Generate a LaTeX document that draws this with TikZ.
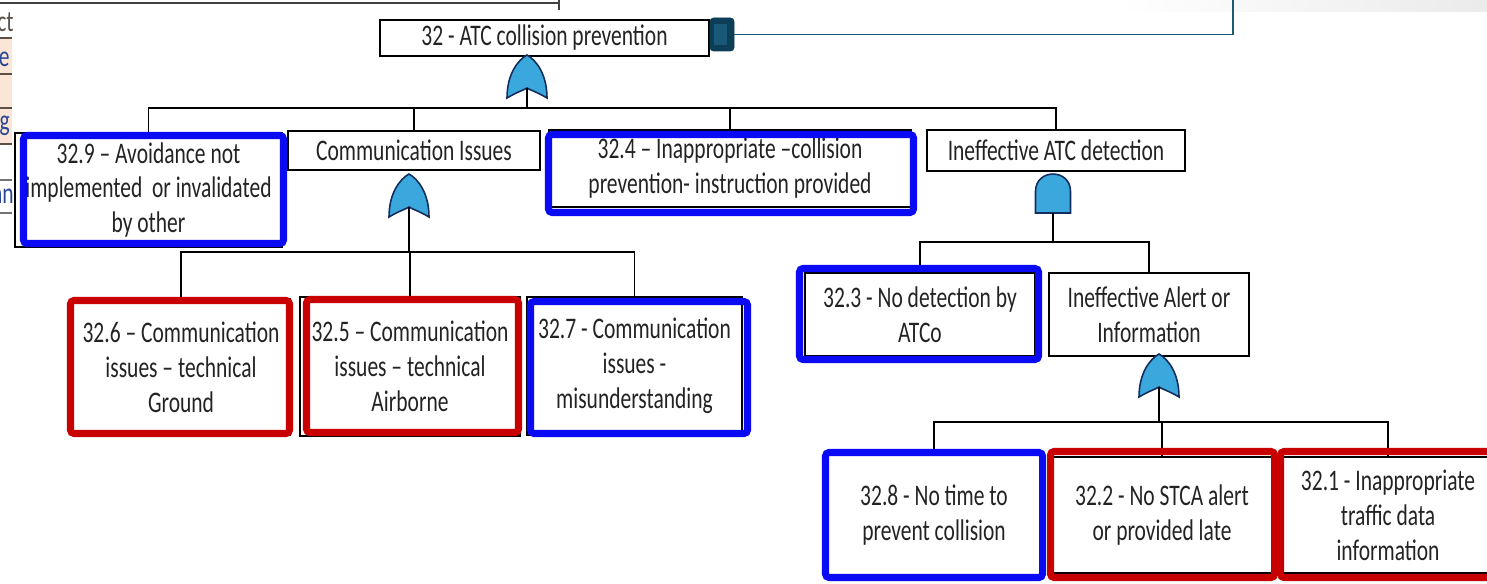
\documentclass[tikz,border=0pt]{standalone}
\usepackage{fontspec}
\setmainfont{Carlito}[FakeStretch=0.72]
\definecolor{txtgray}{RGB}{35,35,35}
\definecolor{hlblue}{RGB}{10,10,245}
\definecolor{hlred}{RGB}{200,0,0}
\definecolor{gatefill}{RGB}{58,168,220}
\definecolor{gateline}{RGB}{20,45,95}
\definecolor{linkteal}{RGB}{30,90,115}
\definecolor{linkdark}{RGB}{12,62,88}
\definecolor{linkmid}{RGB}{26,88,120}
\definecolor{peach}{RGB}{251,229,214}
\definecolor{tabline}{RGB}{90,80,70}
\definecolor{tabtext}{RGB}{40,70,150}
\tikzset{
evt/.style 2 args={
  draw=black,
  line width=1.1pt,
  fill=white,
  inner sep=0pt,
  align=center,
  text=txtgray,
  minimum width=#1cm,
  minimum height=#2cm,
  font=\fontsize{17}{19.9}\selectfont
  },
frag/.style={
  anchor=east,
  inner sep=0pt,
  text=tabtext,
  font=\fontsize{17}{19.9}\selectfont
  },
wire/.style={line width=1.1pt},
blueframe/.style={draw=hlblue, line width=4pt, rounded corners=2pt},
redframe/.style={draw=hlred, line width=4pt, rounded corners=2pt},
gatebody/.style={draw=gateline, fill=gatefill, line width=0.9pt},
orgate/.pic={
  \path[gatebody] (-20,0) .. controls (-20,-24) and (-9,-38) .. (0,-43)
    .. controls (9,-38) and (20,-24) .. (20,0)
    .. controls (10,-6) and (3,-8) .. (0,-10)
    .. controls (-3,-8) and (-10,-6) .. (-20,0) -- cycle;
  \coordinate (-out) at (0,-10);
  },
andgate/.pic={
  \path[gatebody] (-17.5,0) -- (-17.5,-21.5)
    .. controls (-17.5,-44.8) and (17.5,-44.8) .. (17.5,-21.5)
    -- (17.5,0) -- cycle;
  \coordinate (-out) at (0,0);
  }
}

\begin{document}
\begin{tikzpicture}[x=0.02cm, y=-0.02cm]
\useasboundingbox (0,0) rectangle (1487,584);

% cut-off bits of the neighbouring table
\shade[left color=white, right color=black!8] (1120,0) rectangle (1487,12);
\fill[peach] (0,38) rectangle (12,144);
\foreach \yy in {38,74,108,144}
  \draw[tabline, line width=0.8pt] (0,\yy) -- (12,\yy);
\foreach \yy in {180,213}
  \draw[black!55, line width=0.8pt] (0,\yy) -- (12,\yy);
\draw[black!75, line width=0.9pt] (0,3) -- (559,3) (559,0) -- (559,10);
\node[frag, text=tabline] (fr1) at (14,22) {ct};
\node[frag] (fr2) at (10,59) {e};
\node[frag] (fr3) at (10,126) {g};
\node[frag] (fr4) at (14,196) {an};

% events
\node[evt={6.58}{0.72}] (n32) at (544.5,38) {32 - ATC collision prevention};
\node[evt={5.34}{2.28}] (n329) at (148.5,190)
  {32.9 -- Avoidance not\\ implemented\ \ or invalidated\\ by other};
\node[evt={5.04}{0.78}] (ncomm) at (414,150.5) {Communication Issues};
\node[evt={7.24}{1.54}] (n324) at (730,168.5)
  {32.4 -- Inappropriate --collision\\ prevention- instruction provided};
\node[evt={5.16}{0.82}] (ninef) at (1056,150.5) {Ineffective ATC detection};

\node[evt={4.36}{2.72}] (n326) at (181,367)
  {32.6 -- Communication\\ issues -- technical\\ Ground};
\node[evt={4.40}{2.78}] (n325) at (410,366.5)
  {32.5 -- Communication\\ issues -- technical\\ Airborne};
\node[evt={4.30}{2.76}] (n327) at (634.5,366)
  {32.7 - Communication\\ issues -\\ misunderstanding};

\node[evt={4.60}{1.66}] (n323) at (920,314.5) {32.3 - No detection by\\ ATCo};
\node[evt={4.00}{1.66}] (nalert) at (1149,314.5)
  {Ineffective Alert or\\ Information};

\node[evt={4.32}{2.48}] (n328) at (934,515) {32.8 - No time to\\ prevent collision};
\node[evt={4.40}{2.32}] (n322) at (1162,515) {32.2 - No STCA alert\\ or provided late};
\node[evt={4.28}{2.32}] (n321) at (1388,515)
  {32.1 - Inappropriate\\ traffic data\\ information};

% gates
\pic (g0) at (527,98) {orgate};
\pic (g1) at (409,217) {orgate};
\pic (g2) at (1053,213) {andgate};
\pic (g3) at (1159,397) {orgate};

% link to the parent
\node[draw=linkdark, fill=linkdark, rounded corners=2pt, inner sep=0pt,
  minimum width=0.48cm, minimum height=0.66cm] (lnk) at (722,34.5) {};
\fill[linkmid] (714,24) rectangle (727,45);
\coordinate (lnkend) at (1233,0);
\draw[linkteal, line width=1.1pt] (lnk.east) -| (lnkend);

% connectors
\coordinate (b0) at (527,108);
\draw[wire] (g0-out) -- (b0) -| (n329.north);
\draw[wire] (b0) -| (ncomm.north);
\draw[wire] (b0) -| (n324.north);
\draw[wire] (b0) -| (ninef.north);

\coordinate (b1) at (409,252);
\draw[wire] (g1-out) -- (b1) -| (n326.north);
\draw[wire] (b1) -| (n325.north);
\draw[wire] (b1) -| (n327.north);

\coordinate (b2) at (1053,242);
\draw[wire] (g2-out) -- (b2) -| (n323.north);
\draw[wire] (b2) -| (nalert.north);

\coordinate (b3) at (1159,422);
\draw[wire] (g3-out) -- (b3) -| (n328.north);
\draw[wire] (b3) -| (n322.north);
\draw[wire] (b3) -| (n321.north);

% highlight frames
\draw[blueframe] (23.5,135.5) rectangle (283.5,243.5);
\draw[redframe] (70.5,300.5) rectangle (289.5,433.5);
\draw[redframe] (306.5,299.5) rectangle (518.5,432.5);
\draw[blueframe] (530.5,301.5) rectangle (747.5,433.5);
\draw[blueframe] (548.5,134.5) rectangle (913.5,212.5);
\draw[blueframe] (799.5,268.5) rectangle (1038.5,359.5);
\draw[blueframe] (825.5,452.5) rectangle (1042.5,577.5);
\draw[redframe] (1050.5,451.5) rectangle (1274.5,577.5);
\draw[redframe] (1280.5,451.5) rectangle (1505,577.5);
\end{tikzpicture}
\end{document}
